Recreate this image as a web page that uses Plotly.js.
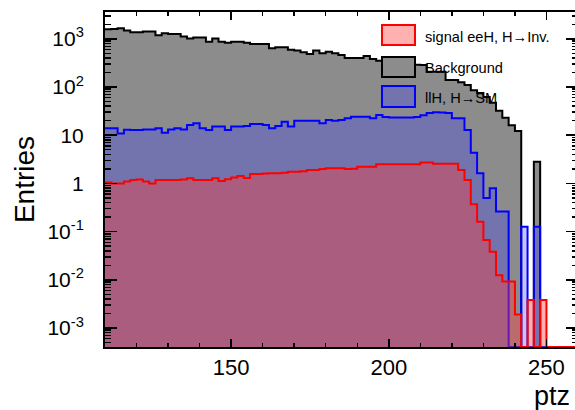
<!DOCTYPE html>
<html>
<head>
<meta charset="utf-8">
<script src="https://cdn.plot.ly/plotly-3.0.1.min.js"></script>
<style>
html,body{margin:0;padding:0;overflow:hidden;background:#ffffff;width:575px;height:410px;}
#chart{width:578px;height:410px;}
</style>
</head>
<body>
<div id="chart"></div>
<script>
// ---- data (ptz histograms, bin width 2) ----
const binEdges = [110,112,114,116,118,120,122,124,126,128,130,132,134,136,138,140,142,144,146,148,
  150,152,154,156,158,160,162,164,166,168,170,172,174,176,178,180,182,184,186,188,
  190,192,194,196,198,200,202,204,206,208,210,212,214,216,218,220,222,224,226,228,
  230,232,234,236,238,240,242,244,246,248,250,252,254,256,258,260];

const background = [1580,1600,1650,1480,1370,1370,1420,1420,1180,1300,
  1260,1260,1110,1020,1070,1070,870,1020,870,830,
  870,870,830,780,780,780,640,670,670,590,
  570,525,485,570,500,540,500,460,400,400,
  400,440,380,350,350,419,330,316,302,290,
  286,208,208,208,140,140,126,110,86,75,
  62,47,32,23,16,12.2,0,0,2.8,0,
  0,0,0,0,0];

const llH = [13.9,13.9,10.9,13,12.8,12.8,13.2,13.2,13.9,11.3,
  13.2,13.9,13.2,16.3,17.7,13.9,12.8,15.1,15.1,12.8,
  15.1,15.1,15.6,17.1,17.1,16.3,13.9,15.6,19.1,15.1,
  20,20,20,20,17.7,20.6,20,20.6,22.4,24.2,
  24.2,24.2,22.4,26.2,24,23.4,23.4,23.4,23.4,24,
  26,29,30,29.5,29,22.4,22.4,12.8,4.3,1.63,
  0.5,0.79,0.26,0.26,0,0,0.126,0,0.126,0,
  0,0,0,0,0];

const signal = [1.05,1.0,1.0,1.1,1.18,1.2,1.1,1.0,1.18,1.18,
  1.18,1.18,1.2,1.28,1.18,1.18,1.18,1.28,1.12,1.22,
  1.32,1.42,1.3,1.57,1.57,1.6,1.62,1.62,1.66,1.75,
  1.75,1.78,1.9,1.9,2.0,2.06,2.06,2.06,2.0,2.02,
  2.22,2.22,2.22,2.49,2.49,2.49,2.5,2.5,2.5,2.5,
  2.7,2.7,2.55,2.55,2.55,2.55,1.9,1.18,0.37,0.16,
  0.067,0.038,0.0125,0.0092,0.0092,0.0019,0,0.0038,0,0.0038,
  0,0,0,0,0];

const seriesNames = ['signal eeH, H\u2192Inv.', 'Background', 'llH, H\u2192SM'];
const yTickVals = [1e-3, 1e-2, 1e-1, 1, 10, 100, 1000];
const yTickText = ['10<sup>-3</sup>', '10<sup>-2</sup>', '10<sup>-1</sup>', '1', '10', '10<sup>2</sup>', '10<sup>3</sup>'];
const xTickVals = [150, 200, 250];
const xTickText = ['150', '200', '250'];

// ---- styling ----
const FONT = '"Liberation Sans", Arial, Helvetica, sans-serif';
const yRange = [-3.394, 3.556];
const xRange = [110, 260];
const floorVal = Math.pow(10, yRange[0]);

const COL_BG_FILL = '#8c8c8c';
const COL_LLH_FILL = 'rgba(60,60,255,0.30)';
const COL_SIG_FILL = 'rgba(255,60,60,0.40)';

function stepTrace(values, name, lineColor, fillColor) {
  const y = values.map(v => (v > 0 ? v : floorVal));
  y.push(y[y.length - 1]);
  return {
    type: 'scatter',
    mode: 'lines',
    name: name,
    x: binEdges,
    y: y,
    line: {shape: 'hv', color: lineColor, width: 2},
    fill: 'tozeroy',
    fillcolor: fillColor,
    showlegend: false,
    hoverinfo: 'skip'
  };
}

const traces = [
  stepTrace(background, seriesNames[1], '#000000', COL_BG_FILL),
  stepTrace(llH, seriesNames[2], '#0000ff', COL_LLH_FILL),
  stepTrace(signal, seriesNames[0], '#ff0000', COL_SIG_FILL)
];

// custom ROOT-like legend (boxes + labels, in paper coordinates)
const legendItems = [
  {name: seriesNames[0], line: '#ff0000', fill: COL_SIG_FILL, y0: 0.9015, y1: 0.9612, ty: 0.9254},
  {name: seriesNames[1], line: '#000000', fill: COL_BG_FILL, y0: 0.806, y1: 0.8657, ty: 0.8328},
  {name: seriesNames[2], line: '#0000ff', fill: COL_LLH_FILL, y0: 0.7164, y1: 0.779, ty: 0.7433}
];
const shapes = legendItems.map(it => ({
  type: 'rect', xref: 'paper', yref: 'paper',
  x0: 0.5856, x1: 0.6554, y0: it.y0, y1: it.y1,
  line: {color: it.line, width: 2}, fillcolor: it.fill, layer: 'above'
}));
const annotations = legendItems.map(it => ({
  xref: 'paper', yref: 'paper', x: 0.6723, y: it.ty,
  xanchor: 'left', yanchor: 'middle', showarrow: false,
  text: it.name, font: {family: FONT, size: 14.6, color: '#000'}
}));
annotations.push({
  xref: 'paper', yref: 'paper', x: 1, y: -0.097, xshift: -6,
  xanchor: 'right', yanchor: 'top', showarrow: false,
  text: 'ptz', font: {family: FONT, size: 27, color: '#000'}
});

const layout = {
  width: 578, height: 410,
  margin: {l: 105, r: 0, t: 12, b: 63, pad: 0},
  paper_bgcolor: '#ffffff', plot_bgcolor: '#ffffff',
  showlegend: false,
  font: {family: FONT, color: '#000'},
  xaxis: {
    range: xRange, showgrid: false, zeroline: false,
    showline: true, linecolor: '#000', linewidth: 2, mirror: 'allticks',
    ticks: 'inside', ticklen: 8, tickwidth: 1.5, tickcolor: '#000',
    tickmode: 'array', tickvals: xTickVals, ticktext: xTickText,
    tickfont: {family: FONT, size: 22, color: '#000'},
    ticklabelstandoff: 0,
    minor: {ticks: 'inside', ticklen: 4, tickwidth: 1.5, tickcolor: '#000', dtick: 10, tick0: 0, showgrid: false}
  },
  yaxis: {
    type: 'log', range: yRange, showgrid: false, zeroline: false,
    showline: true, linecolor: '#000', linewidth: 2, mirror: 'allticks',
    ticks: 'inside', ticklen: 12, tickwidth: 1.5, tickcolor: '#000',
    tickmode: 'array', tickvals: yTickVals, ticktext: yTickText,
    tickfont: {family: FONT, size: 21, color: '#000'},
    ticklabelstandoff: 15,
    minor: {ticks: 'inside', ticklen: 6, tickwidth: 1.5, tickcolor: '#000', dtick: 'D1', showgrid: false},
    title: {text: 'Entries', font: {family: FONT, size: 28, color: '#000'}, standoff: 5}
  },
  shapes: shapes,
  annotations: annotations
};

Plotly.newPlot('chart', traces, layout, {staticPlot: true, displayModeBar: false});
</script>
</body>
</html>
